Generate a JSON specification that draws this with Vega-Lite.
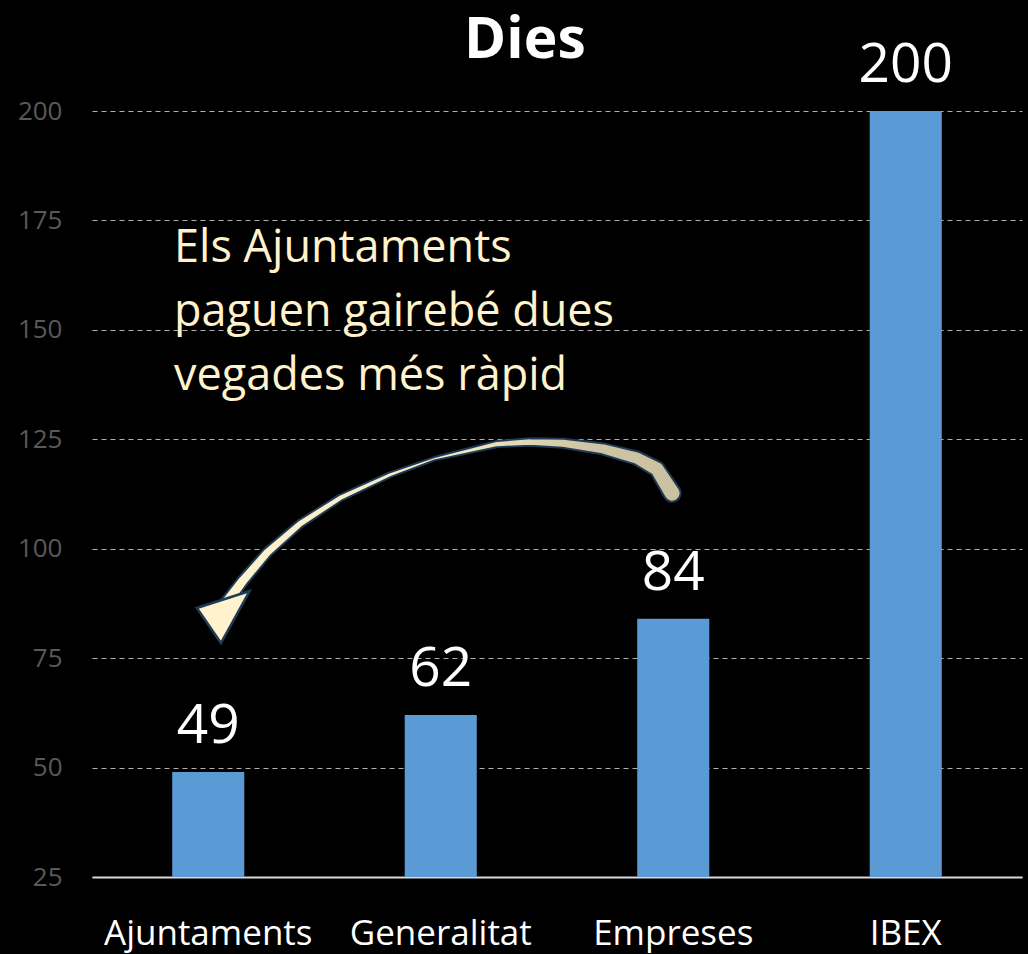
{
  "$schema": "https://vega.github.io/schema/vega-lite/v6.json",
  "width": 930,
  "height": 766,
  "autosize": "none",
  "padding": {"left": 92, "top": 111, "right": 6, "bottom": 77},
  "background": "#000000",
  "config": {
    "view": {"stroke": null},
    "font": "Open Sans",
    "axis": {"labelFont": "Open Sans"}
  },
  "datasets": {
    "bars": [
      {"cat": "Ajuntaments", "dies": 49},
      {"cat": "Generalitat", "dies": 62},
      {"cat": "Empreses", "dies": 84},
      {"cat": "IBEX", "dies": 200}
    ],
    "arrow": [
      {"i": 0, "px": 2.495, "py": 112.7},
      {"i": 1, "px": 2.430, "py": 118.2},
      {"i": 2, "px": 2.344, "py": 120.7},
      {"i": 3, "px": 2.198, "py": 122.8},
      {"i": 4, "px": 2.026, "py": 124.1},
      {"i": 5, "px": 1.884, "py": 124.4},
      {"i": 6, "px": 1.742, "py": 123.9},
      {"i": 7, "px": 1.596, "py": 122.1},
      {"i": 8, "px": 1.475, "py": 120.6},
      {"i": 9, "px": 1.282, "py": 116.9},
      {"i": 10, "px": 1.067, "py": 111.6},
      {"i": 11, "px": 0.895, "py": 105.7},
      {"i": 12, "px": 0.753, "py": 99.1},
      {"i": 13, "px": 0.649, "py": 92.7},
      {"i": 14, "px": 0.572, "py": 87.2}
    ],
    "head": [{"px": 0.563, "py": 85.3}],
    "note": [{"px": 0.353, "py": 165.5, "txt": "Els Ajuntaments\npaguen gairebé dues\nvegades més ràpid"}],
    "title": [{"px": 1.862, "py": 212.0, "txt": "Dies"}]
  },
  "layer": [
    {
      "data": {"name": "bars"},
      "layer": [
        {
          "mark": {"type": "bar", "color": "#5b9bd5"},
          "encoding": {
            "x": {
              "field": "cat", "type": "nominal", "sort": null,
              "scale": {"paddingInner": 0.69, "paddingOuter": 0.345},
              "axis": {
                "title": null, "labelAngle": 0, "labelColor": "#ffffff",
                "labelFontSize": 35, "labelLimit": 400, "ticks": false, "tickSize": 0,
                "labelPadding": 67, "labelBaseline": "alphabetic",
                "domainColor": "#d9d9d9", "domainWidth": 2, "grid": false
              }
            },
            "y": {
              "field": "dies", "type": "quantitative",
              "scale": {"domain": [25, 200], "zero": false, "nice": false},
              "axis": {
                "title": null, "values": [25, 50, 75, 100, 125, 150, 175, 200],
                "domain": false, "ticks": false, "labelPadding": 30,
                "labelColor": "#595959", "labelFontSize": 26,
                "grid": true, "gridColor": "#b0b0b0", "gridDash": [5, 4], "gridWidth": 1
              }
            },
            "y2": {"datum": 25}
          }
        },
        {
          "mark": {"type": "text", "color": "#ffffff", "fontSize": 55, "baseline": "alphabetic", "dy": -29},
          "encoding": {
            "x": {"field": "cat", "type": "nominal", "sort": null},
            "y": {"field": "dies", "type": "quantitative"},
            "text": {"field": "dies", "type": "quantitative"}
          }
        }
      ]
    },
    {
      "data": {"name": "arrow"},
      "layer": [
        {
          "mark": {"type": "trail", "color": "#1f3b57"},
          "encoding": {
            "x": {"field": "px", "type": "quantitative", "scale": {"domain": [0, 4]}, "axis": null},
            "y": {"field": "py", "type": "quantitative"},
            "order": {"field": "i"},
            "size": {"field": "i", "type": "quantitative", "legend": null, "scale": {"domain": [0, 4, 8, 14], "range": [19, 11, 5, 14], "zero": false}}
          }
        },
        {
          "mark": {
            "type": "trail",
            "color": {
              "gradient": "linear", "x1": 0, "x2": 1, "y1": 0, "y2": 0,
              "stops": [
                {"offset": 0, "color": "#fff2cc"},
                {"offset": 0.5, "color": "#f6ebc6"},
                {"offset": 0.8, "color": "#cfc5a4"},
                {"offset": 1, "color": "#cbc1a0"}
              ]
            }
          },
          "encoding": {
            "x": {"field": "px", "type": "quantitative", "scale": {"domain": [0, 4]}, "axis": null},
            "y": {"field": "py", "type": "quantitative"},
            "order": {"field": "i"},
            "size": {"field": "i", "type": "quantitative", "legend": null, "scale": {"domain": [0, 4, 8, 14], "range": [15, 7, 1.2, 10], "zero": false}}
          }
        }
      ],
      "resolve": {"scale": {"size": "independent"}}
    },
    {
      "data": {"name": "head"},
      "mark": {
        "type": "point", "shape": "M-0.93,-0.18L0.96,-0.79L-0.07,1.07Z", "filled": true,
        "fill": "#fff2cc", "stroke": "#1f3b57", "strokeWidth": 2.5,
        "size": 3136, "opacity": 1
      },
      "encoding": {
        "x": {"field": "px", "type": "quantitative", "scale": {"domain": [0, 4]}, "axis": null},
        "y": {"field": "py", "type": "quantitative"}
      }
    },
    {
      "data": {"name": "note"},
      "mark": {"type": "text", "align": "left", "baseline": "alphabetic", "color": "#fff2cc", "fontSize": 45, "lineHeight": 64, "lineBreak": "\n"},
      "encoding": {
        "x": {"field": "px", "type": "quantitative", "scale": {"domain": [0, 4]}, "axis": null},
        "y": {"field": "py", "type": "quantitative"},
        "text": {"field": "txt"}
      }
    },
    {
      "data": {"name": "title"},
      "mark": {"type": "text", "align": "center", "baseline": "alphabetic", "color": "#ffffff", "fontSize": 57, "fontWeight": "bold"},
      "encoding": {
        "x": {"field": "px", "type": "quantitative", "scale": {"domain": [0, 4]}, "axis": null},
        "y": {"field": "py", "type": "quantitative"},
        "text": {"field": "txt"}
      }
    }
  ],
  "resolve": {"scale": {"x": "independent"}}
}
